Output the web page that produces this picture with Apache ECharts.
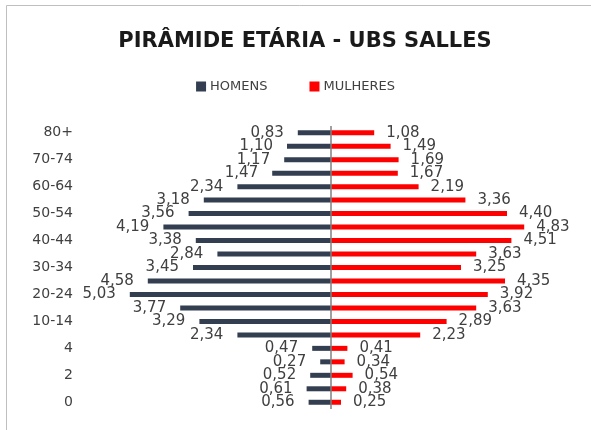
<!DOCTYPE html>
<html>
<head>
<meta charset="utf-8">
<script src="https://cdn.jsdelivr.net/npm/echarts@6/dist/echarts.min.js"></script>
<style>
html, body { margin: 0; padding: 0; background: #fff; }
#chart { width: 591px; height: 430px; }
</style>
</head>
<body>
<div id="chart"></div>
<script>
// faixas etarias, de cima para baixo
var faixas = ['80+', '75-79', '70-74', '65-69', '60-64', '55-59', '50-54', '45-49', '40-44', '35-39',
    '30-34', '25-29', '20-24', '15-19', '10-14', '5-9', '4', '3', '2', '1', '0'];

// percentuais
var homens = [0.83, 1.10, 1.17, 1.47, 2.34, 3.18, 3.56, 4.19, 3.38, 2.84,
    3.45, 4.58, 5.03, 3.77, 3.29, 2.34, 0.47, 0.27, 0.52, 0.61, 0.56];
var mulheres = [1.08, 1.49, 1.69, 1.67, 2.19, 3.36, 4.40, 4.83, 4.51, 3.63,
    3.25, 4.35, 3.92, 3.63, 2.89, 2.23, 0.41, 0.34, 0.54, 0.38, 0.25];

var fmt = function (p) {
    return Math.abs(p.value).toFixed(2).replace('.', ',');
};

var chart = echarts.init(document.getElementById('chart'));
var option = {
    animation: false,
    textStyle: { fontFamily: 'DejaVu Sans', color: '#404040' },
    graphic: [{
        type: 'rect',
        shape: { x: 6.5, y: 5.5, width: 600, height: 440 },
        style: { fill: 'none', stroke: '#BFBFBF', lineWidth: 1 }
    }],
    title: {
        text: 'PIRÂMIDE ETÁRIA - UBS SALLES',
        left: 300,
        textAlign: 'center',
        top: 26,
        textStyle: { fontFamily: 'DejaVu Sans', fontWeight: 'bold', fontSize: 21, color: '#1a1a1a' }
    },
    legend: {
        top: 75,
        left: 'center',
        icon: 'rect',
        itemWidth: 10,
        itemHeight: 10,
        itemGap: 42,
        textStyle: { fontSize: 13, color: '#404040', fontFamily: 'DejaVu Sans', padding: [0, 0, 0, -1] },
        data: ['HOMENS', 'MULHERES']
    },
    grid: { left: 91, right: 20, top: 126, bottom: 21 },
    xAxis: {
        type: 'value',
        min: -6,
        max: 6,
        show: false
    },
    yAxis: {
        type: 'category',
        data: faixas,
        inverse: true,
        axisLine: { show: false },
        axisTick: { show: false },
        axisLabel: { interval: 1, margin: 18, fontSize: 14, color: '#404040', fontFamily: 'DejaVu Sans' }
    },
    series: [{
        name: 'HOMENS',
        type: 'bar',
        stack: 'pop',
        barWidth: 5,
        itemStyle: { color: '#333F50' },
        data: homens.map(function (v) { return -v; }),
        label: {
            show: true,
            position: 'left',
            distance: 14,
            formatter: fmt,
            fontSize: 15,
            color: '#404040',
            fontFamily: 'DejaVu Sans'
        },
        markLine: {
            silent: true,
            symbol: 'none',
            label: { show: false },
            lineStyle: { color: '#808080', type: 'solid', width: 1.5 },
            data: [{ xAxis: 0 }]
        }
    }, {
        name: 'MULHERES',
        type: 'bar',
        stack: 'pop',
        barWidth: 5,
        itemStyle: { color: '#FF0000' },
        data: mulheres,
        label: {
            show: true,
            position: 'right',
            distance: 12,
            formatter: fmt,
            fontSize: 15,
            color: '#404040',
            fontFamily: 'DejaVu Sans'
        }
    }]
};
chart.setOption(option);
</script>
</body>
</html>
